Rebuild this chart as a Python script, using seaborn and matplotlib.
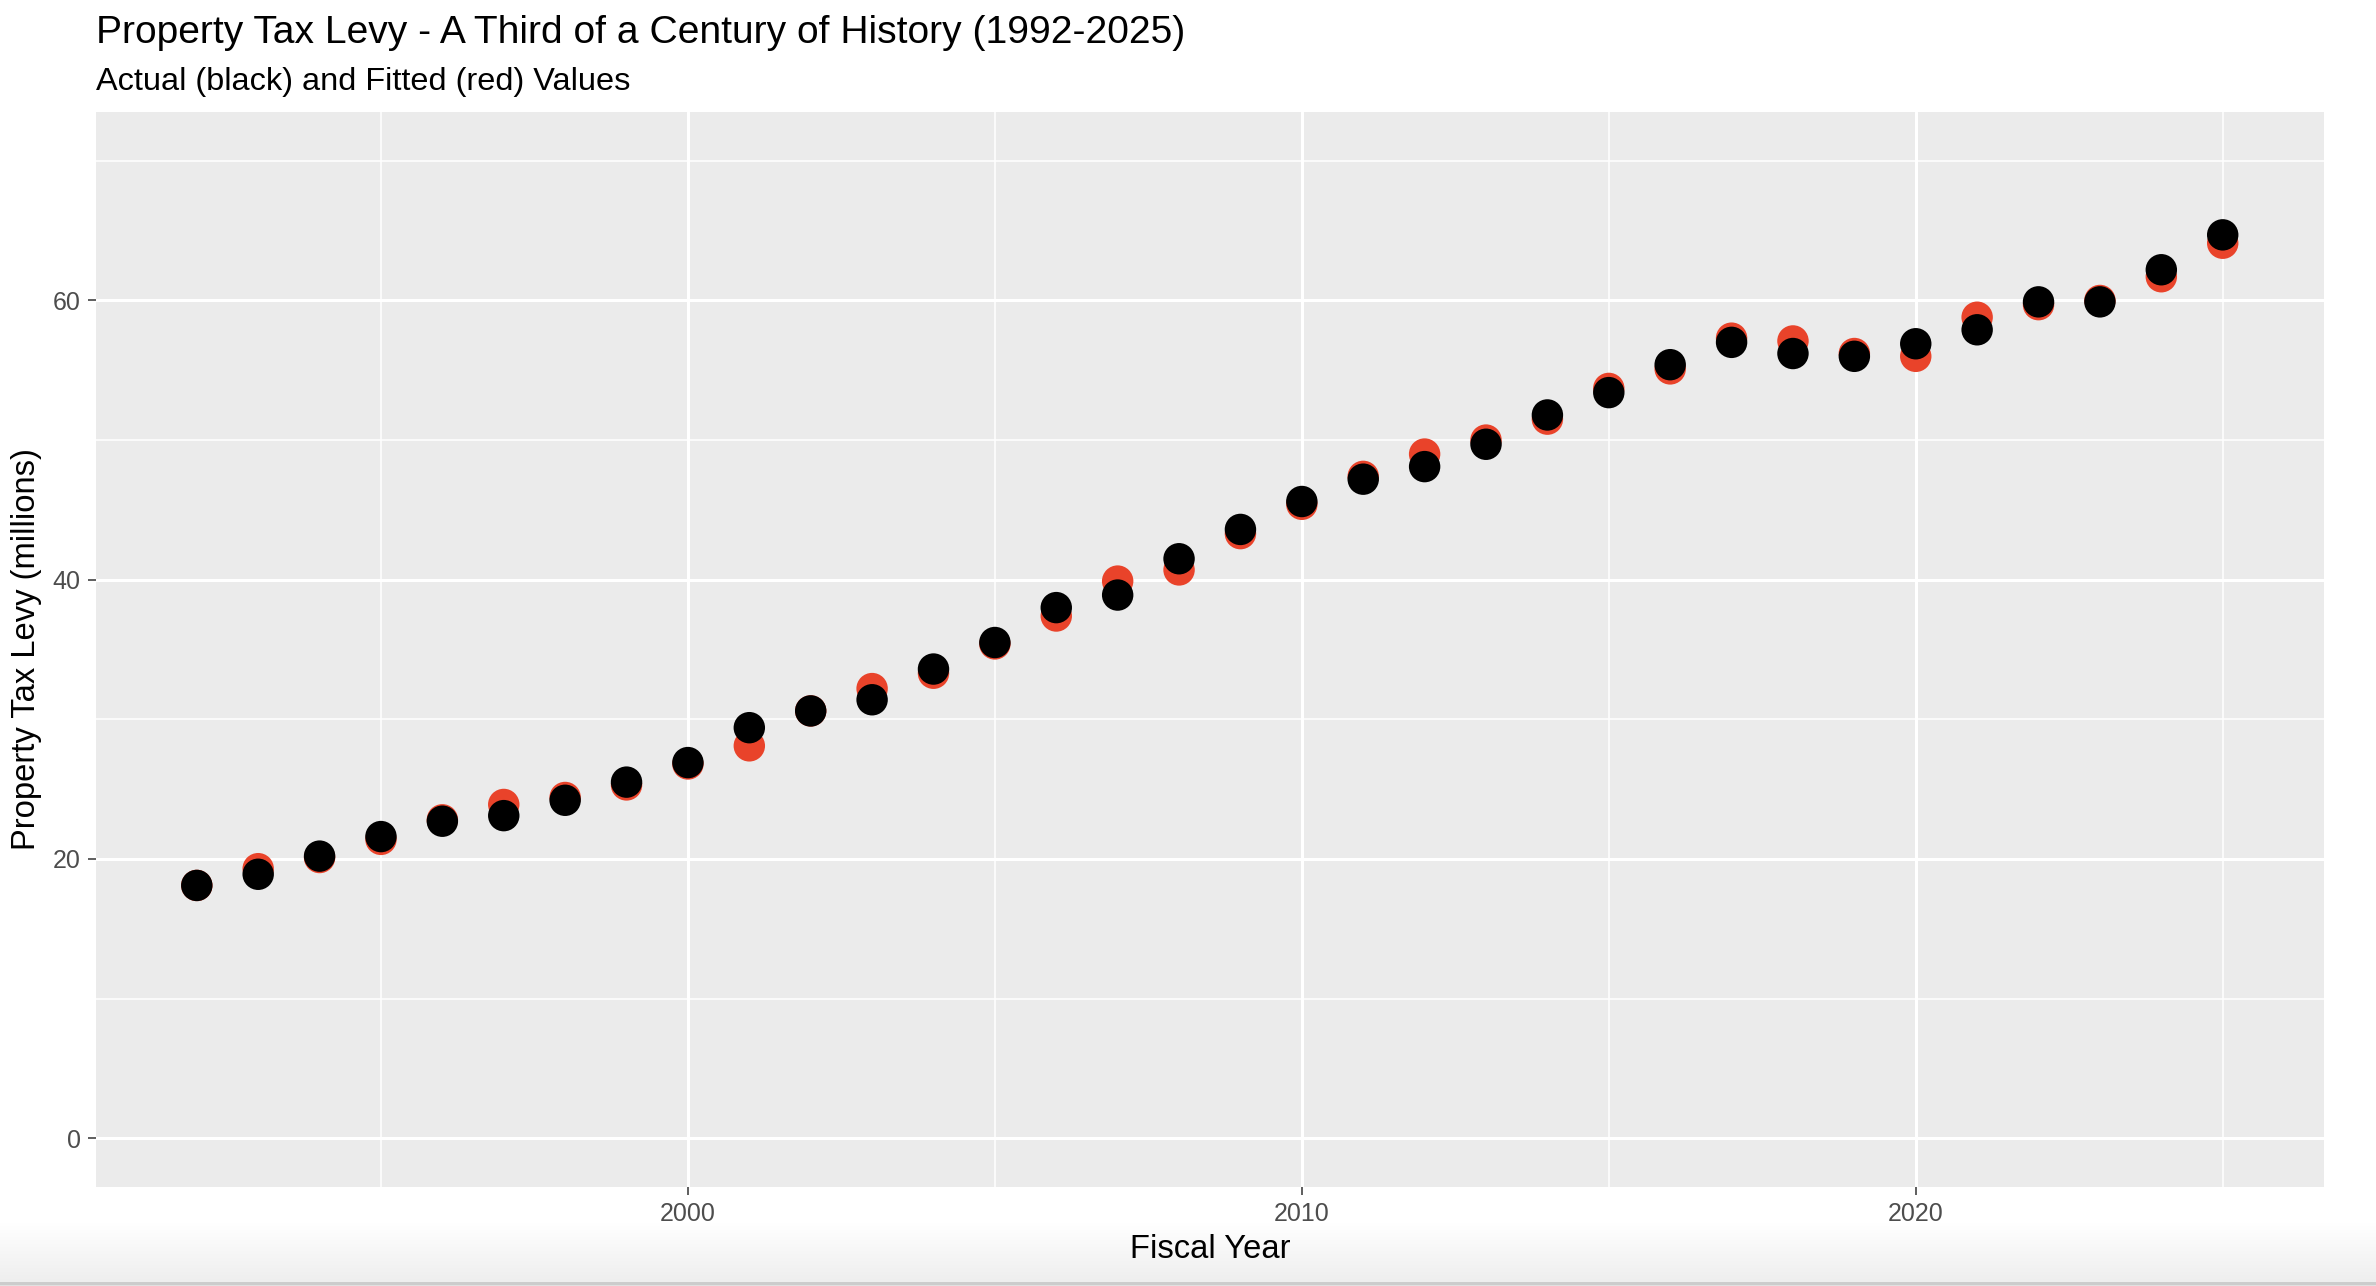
import numpy as np
import pandas as pd
import matplotlib
matplotlib.use("Agg")
import matplotlib.pyplot as plt
import seaborn as sns

years = list(range(1992, 2026))
actual = [18.1, 18.9, 20.2, 21.6, 22.7, 23.1, 24.2, 25.5, 26.9, 29.4,
          30.6, 31.4, 33.6, 35.5, 38.0, 38.9, 41.5, 43.6, 45.6, 47.2,
          48.1, 49.7, 51.8, 53.4, 55.4, 57.0, 56.2, 56.0, 56.9, 57.9,
          59.9, 59.9, 62.2, 64.7]
fitted = [18.1, 19.3, 20.1, 21.4, 22.8, 23.9, 24.4, 25.3, 26.8, 28.1,
          30.6, 32.2, 33.3, 35.4, 37.4, 39.9, 40.7, 43.3, 45.4, 47.4,
          49.0, 50.0, 51.5, 53.7, 55.1, 57.3, 57.1, 56.2, 56.0, 58.8,
          59.7, 60.0, 61.7, 64.1]
x_ticks = [2000, 2010, 2020]
y_ticks = [0, 20, 40, 60]

title = "Property Tax Levy - A Third of a Century of History (1992-2025)"
subtitle = "Actual (black) and Fitted (red) Values"
xlabel = "Fiscal Year"
ylabel = "Property Tax Levy (millions)"

df = pd.DataFrame({"year": years, "actual": actual, "fitted": fitted})

sns.set_theme(style="darkgrid", rc={
    "axes.facecolor": "#EBEBEB",
    "grid.color": "white",
    "axes.edgecolor": "#EBEBEB",
})
plt.rcParams["font.family"] = ["Liberation Sans", "DejaVu Sans"]

DPI = 200
fig = plt.figure(figsize=(2376 / DPI, 1286 / DPI), dpi=DPI, facecolor="white")

# bottom screenshot-like gradient band
gax = fig.add_axes([0, 0, 1, 64 / 1286])
grad = np.linspace(0, 1, 64).reshape(-1, 1)
gcol = np.ones((64, 1, 3))
gcol[:, 0, :] = 1.0 - 0.07 * (1 - grad)
gcol[:4, 0, :] = 0.80
gcol[:1, 0, :] = 0.88
gax.imshow(gcol, aspect="auto", origin="lower", extent=[0, 1, 0, 1])
gax.set_axis_off()

L, R = 95.5 / 2376, 2324 / 2376
B, T = 1 - 1187 / 1286, 1 - 112 / 1286
ax = fig.add_axes([L, B, R - L, T - B])

sns.scatterplot(data=df, x="year", y="fitted", ax=ax, color="#E9432A",
                s=128, edgecolor="none", linewidth=0, zorder=3)
sns.scatterplot(data=df, x="year", y="actual", ax=ax, color="black",
                s=128, edgecolor="none", linewidth=0, zorder=4)

xr = (years[-1] - years[0]) * 0.05
ax.set_xlim(years[0] - xr, years[-1] + xr)
ax.set_ylim(-3.5, 73.5)
ax.set_xticks(x_ticks)
ax.set_yticks(y_ticks)
ax.set_xticks([1995, 2005, 2015, 2025], minor=True)
ax.set_yticks([10, 30, 50, 70], minor=True)
ax.grid(which="major", color="white", linewidth=1.1)
ax.grid(which="minor", color="white", linewidth=0.55)
ax.set_axisbelow(True)
for s in ax.spines.values():
    s.set_visible(False)

ax.tick_params(axis="both", which="major", length=2.8, width=0.55,
               color="#333333", labelcolor="#4D4D4D", labelsize=9, pad=2.5,
               bottom=True, left=True)
ax.tick_params(axis="both", which="minor", length=0)

ax.set_xlabel(xlabel, fontsize=11.8, color="black", labelpad=3)
ax.set_ylabel(ylabel, fontsize=11.8, color="black", labelpad=4)

fig.text(L, 1 - 42.7 / 1286, title, fontsize=14.05, color="black",
         ha="left", va="baseline")
fig.text(L, 1 - 90 / 1286, subtitle, fontsize=11.7, color="black",
         ha="left", va="baseline")

fig.savefig("out.png", dpi=DPI, facecolor="white")
